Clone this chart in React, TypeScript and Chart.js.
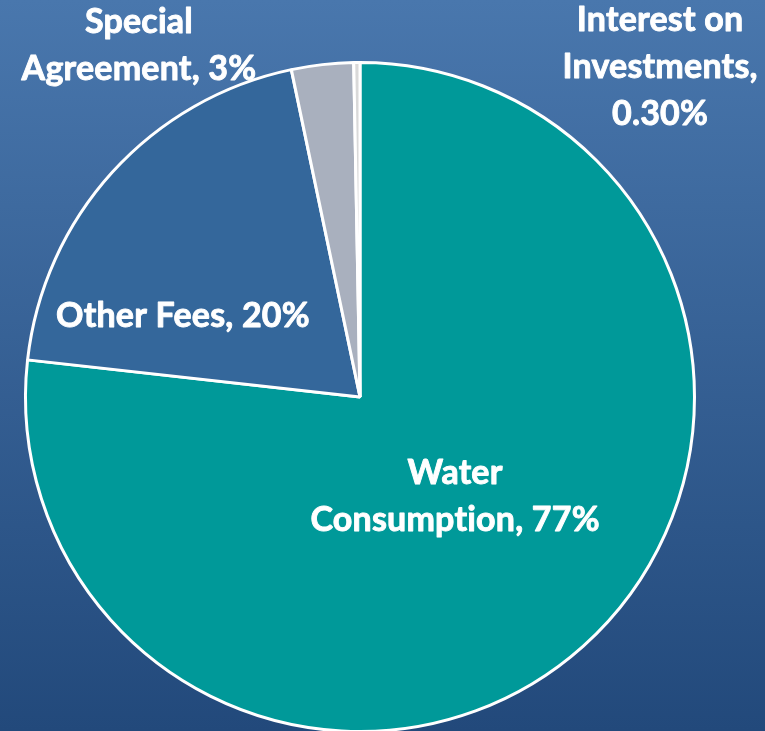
import React, { useEffect, useRef } from "react";
import { Chart, registerables } from "chart.js";

Chart.register(...registerables);

const categories = ["Water Consumption", "Other Fees", "Special Agreement", "Interest on Investments"];
const shares = [77, 20, 3, 0.3];
const labelLines = [
  ["Water", "Consumption, 77%"],
  ["Other Fees, 20%"],
  ["Special", "Agreement, 3%"],
  ["Interest on", "Investments,", "0.30%"],
];

// label block centres, as fractions of the pie radius from its centre
const labelOffsets = [
  [0.283, 0.295],
  [-0.527, -0.241],
  [-0.658, -1.045],
  [0.893, -0.981],
];
const sliceColors = ["#009999", "#34679b", "#a9b0be", "#d9d9d9"];

const labelPlugin = {
  id: "sliceLabels",
  afterDatasetsDraw(chart: any) {
    const meta = chart.getDatasetMeta(0);
    const arc = meta.data[0];
    if (!arc) return;
    const { x, y, outerRadius } = arc.getProps(["x", "y", "outerRadius"], true);
    const R = outerRadius + 1.5;
    const ctx = chart.ctx;
    ctx.save();
    ctx.fillStyle = "#ffffff";
    ctx.strokeStyle = "#ffffff";
    ctx.lineWidth = 0.9;
    ctx.lineJoin = "round";
    ctx.font = "bold 34px Lato";
    try {
      (ctx as any).letterSpacing = "0.2px";
    } catch (e) {}
    ctx.textAlign = "center";
    ctx.textBaseline = "middle";
    const lh = 47;
    labelLines.forEach((lines, i) => {
      const cx = x + labelOffsets[i][0] * R;
      const cy = y + labelOffsets[i][1] * R;
      const start = cy - ((lines.length - 1) * lh) / 2;
      lines.forEach((t, j) => {
        ctx.fillText(t, cx, start + j * lh);
        ctx.strokeText(t, cx, start + j * lh);
      });
    });
    ctx.restore();
  },
};

export default function App() {
  const ref = useRef<HTMLCanvasElement>(null);
  useEffect(() => {
    document.body.style.margin = "0";
    const chart = new Chart(ref.current!, {
      type: "pie",
      data: {
        labels: categories,
        datasets: [
          {
            data: shares,
            backgroundColor: sliceColors,
            borderColor: "#ffffff",
            borderWidth: 3,
          },
        ],
      },
      options: {
        responsive: false,
        animation: false,
        layout: { padding: { left: 24, right: 69, top: 61, bottom: 7 } },
        plugins: { legend: { display: false }, tooltip: { enabled: false } },
      },
      plugins: [labelPlugin],
    });
    return () => chart.destroy();
  }, []);
  return (
    <div
      style={{
        position: "absolute",
        left: 0,
        top: 0,
        width: 765,
        height: 731,
        overflow: "hidden",
        background: "linear-gradient(to bottom, #4977ad, #22497b)",
      }}
    >
      <canvas ref={ref} width={765} height={740} style={{ display: "block" }} />
    </div>
  );
}
